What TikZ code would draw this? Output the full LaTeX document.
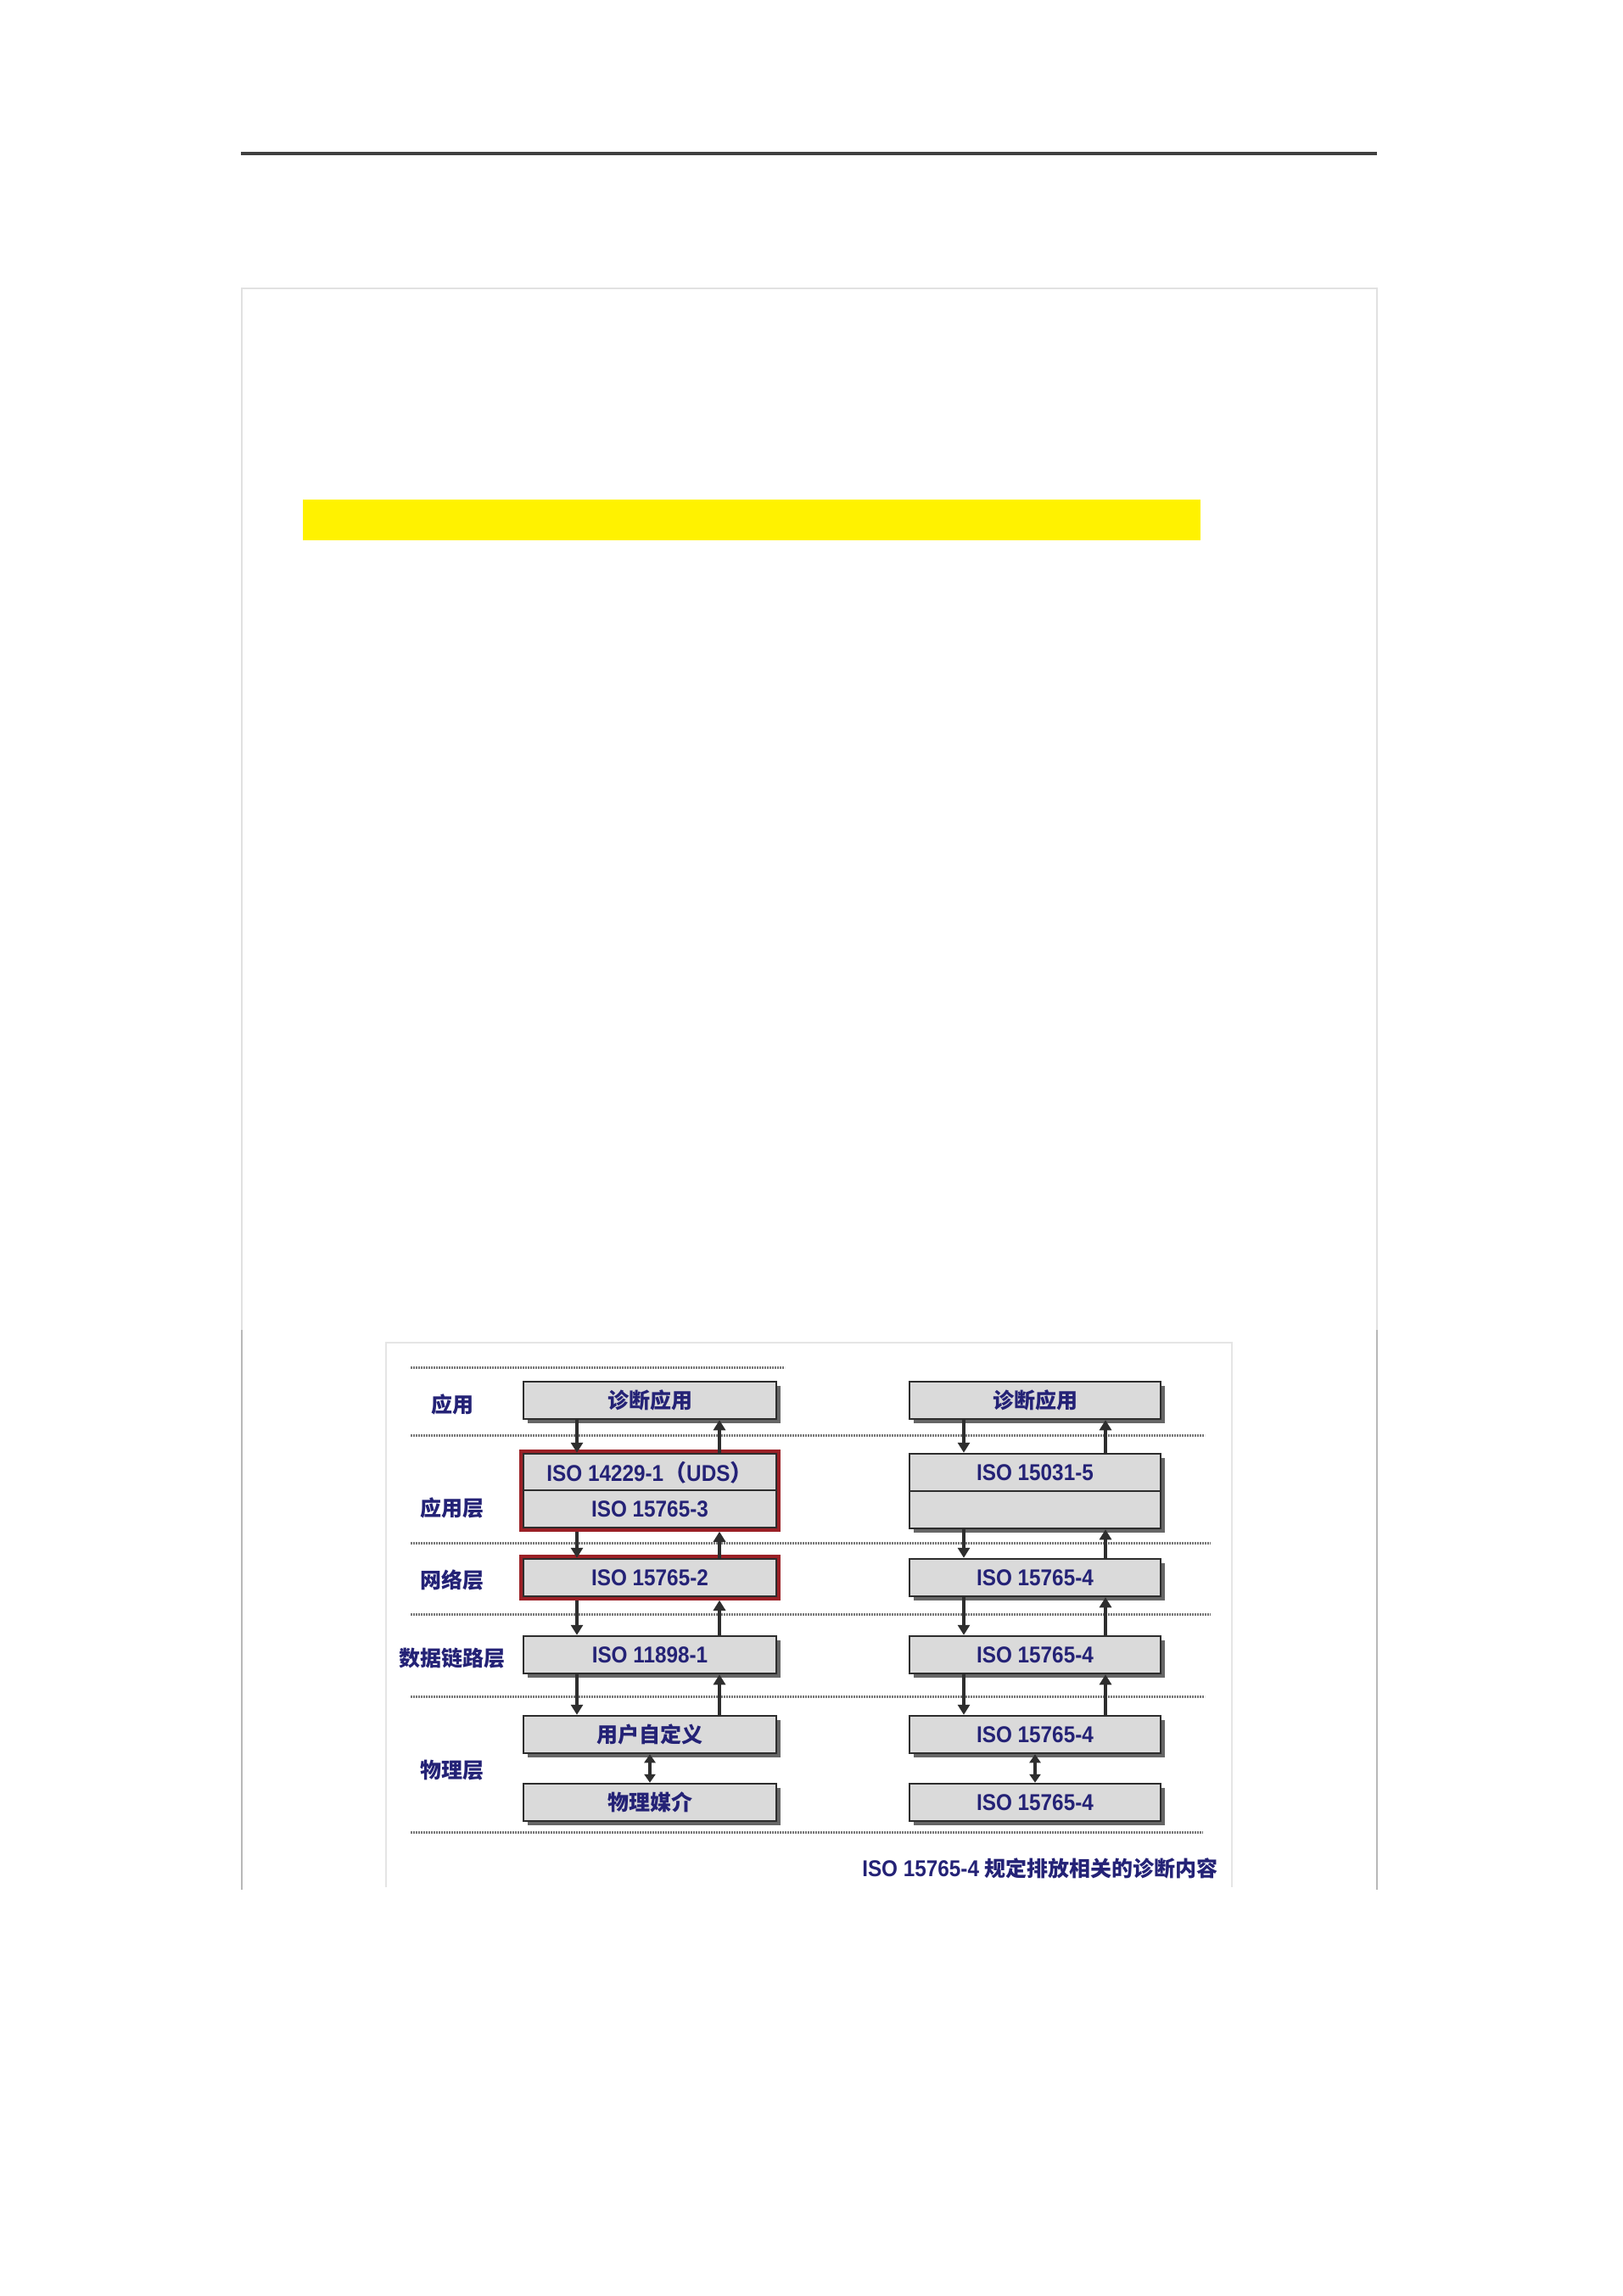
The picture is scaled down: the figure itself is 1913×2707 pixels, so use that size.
\documentclass[tikz,border=0pt]{standalone}
\usepackage{fontspec}
\setmainfont{Liberation Sans}[FakeStretch=0.9]
\newfontfamily\cjk{Noto Sans CJK SC}
\usetikzlibrary{arrows.meta,shadows,fit}
\definecolor{navy}{RGB}{36,34,118}
\definecolor{boxfill}{RGB}{218,218,218}
\definecolor{boxline}{RGB}{45,45,45}
\definecolor{redline}{RGB}{155,32,38}
\definecolor{dotgray}{RGB}{120,120,120}
\definecolor{framegray}{RGB}{225,225,225}
\tikzset{
  layerbox/.style={draw=boxline, line width=2.5pt, fill=boxfill, minimum height=44pt, inner sep=0pt,
    font=\bfseries\fontsize{27}{30}\selectfont, text=navy,
    drop shadow={shadow xshift=5pt, shadow yshift=-5pt, fill=black!70, opacity=0.85}},
  leftbox/.style={layerbox, minimum width=298pt},
  rightbox/.style={layerbox, minimum width=296pt},
  cjktext/.style={font=\cjk\bfseries\fontsize{25}{30}\selectfont},
  layerlabel/.style={font=\cjk\bfseries\fontsize{25}{30}\selectfont, text=navy, inner sep=0pt},
  dotline/.style={dotgray, line width=3pt, dash pattern=on 2pt off 1pt},
  flow/.style={draw=black!82, line width=3.5pt, -{Triangle[width=14pt,length=12pt]}},
  bothflow/.style={draw=black!82, line width=3.5pt, {Triangle[width=13pt,length=10pt]}-{Triangle[width=13pt,length=10pt]}},
  redframe/.style={draw=redline, line width=4pt, inner sep=1.5pt},
}
\begin{document}
\begin{tikzpicture}[x=1pt,y=-1pt]
\fill[white] (0,0) rectangle (1913,2707);
\useasboundingbox (0,0) rectangle (1913,2707);

% page furniture
\draw[black!75, line width=4.5pt] (284,181) -- (1623,181);
\draw[framegray, line width=2pt] (285,2228) -- (285,340) -- (1623,340) -- (1623,2228);
\draw[black!28, line width=2pt] (285,1568) -- (285,2228);
\draw[black!28, line width=2pt] (1623,1568) -- (1623,2228);
\fill[yellow] (357,589) rectangle (1415,637);
\draw[black!10, line width=1.5pt] (455,2225) -- (455,1583) -- (1452,1583) -- (1452,2225);

% dotted layer separators
\draw[dotline] (484,1612) -- (925,1612);
\draw[dotline] (484,1692) -- (1420,1692);
\draw[dotline] (484,1819) -- (1427,1819);
\draw[dotline] (484,1903) -- (1427,1903);
\draw[dotline] (484,2000) -- (1420,2000);
\draw[dotline] (484,2160) -- (1418,2160);

% layer labels
\node[layerlabel] (T1) at (533,1656) {应用};
\node[layerlabel] (T2) at (533,1778) {应用层};
\node[layerlabel] (T3) at (533,1863) {网络层};
\node[layerlabel] (T4) at (533,1955) {数据链路层};
\node[layerlabel] (T5) at (533,2087) {物理层};

% left column
\node[leftbox, cjktext] (L1) at (766,1651) {诊断应用};
\node[leftbox] (L2a) at (766,1736) {ISO 14229-1{\cjk （}UDS{\cjk ）}};
\node[leftbox] (L2b) at (766,1779) {ISO 15765-3};
\node[leftbox] (L3) at (766,1860) {ISO 15765-2};
\node[leftbox] (L4) at (766,1951) {ISO 11898-1};
\node[leftbox, cjktext] (L5) at (766,2045) {用户自定义};
\node[leftbox, cjktext] (L6) at (766,2125) {物理媒介};
\node[redframe, fit=(L2a)(L2b)] (RF1) {};
\node[redframe, fit=(L3)] (RF2) {};

% right column
\node[rightbox, cjktext] (R1) at (1220,1651) {诊断应用};
\node[rightbox] (R2a) at (1220,1736) {ISO 15031-5};
\node[rightbox] (R2b) at (1220,1780) {};
\node[rightbox] (R3) at (1220,1860) {ISO 15765-4};
\node[rightbox] (R4) at (1220,1951) {ISO 15765-4};
\node[rightbox] (R5) at (1220,2045) {ISO 15765-4};
\node[rightbox] (R6) at (1220,2125) {ISO 15765-4};

% caption
\node[anchor=east, inner sep=0pt, font=\bfseries\fontsize{27}{30}\selectfont, text=navy] (cap) at (1436,2203) {ISO 15765-4 {\cjk\fontsize{25}{30}\selectfont 规定排放相关的诊断内容}};

% arrow columns
\coordinate (lx1) at (680,0);
\coordinate (lx2) at (848,0);
\coordinate (rx1) at (1136,0);
\coordinate (rx2) at (1303,0);

\draw[flow] (L1.south -| lx1) -- (L2a.north -| lx1);
\draw[flow] (L2a.north -| lx2) -- (L1.south -| lx2);
\draw[flow] (RF1.south -| lx1) -- (L3.north -| lx1);
\draw[flow] (L3.north -| lx2) -- (RF1.south -| lx2);
\draw[flow] (RF2.south -| lx1) -- (L4.north -| lx1);
\draw[flow] (L4.north -| lx2) -- (RF2.south -| lx2);
\draw[flow] (L4.south -| lx1) -- (L5.north -| lx1);
\draw[flow] (L5.north -| lx2) -- (L4.south -| lx2);
\draw[bothflow] (L5.south) -- (L6.north);

\draw[flow] (R1.south -| rx1) -- (R2a.north -| rx1);
\draw[flow] (R2a.north -| rx2) -- (R1.south -| rx2);
\draw[flow] (R2b.south -| rx1) -- (R3.north -| rx1);
\draw[flow] (R3.north -| rx2) -- (R2b.south -| rx2);
\draw[flow] (R3.south -| rx1) -- (R4.north -| rx1);
\draw[flow] (R4.north -| rx2) -- (R3.south -| rx2);
\draw[flow] (R4.south -| rx1) -- (R5.north -| rx1);
\draw[flow] (R5.north -| rx2) -- (R4.south -| rx2);
\draw[bothflow] (R5.south) -- (R6.north);
\end{tikzpicture}
\end{document}
